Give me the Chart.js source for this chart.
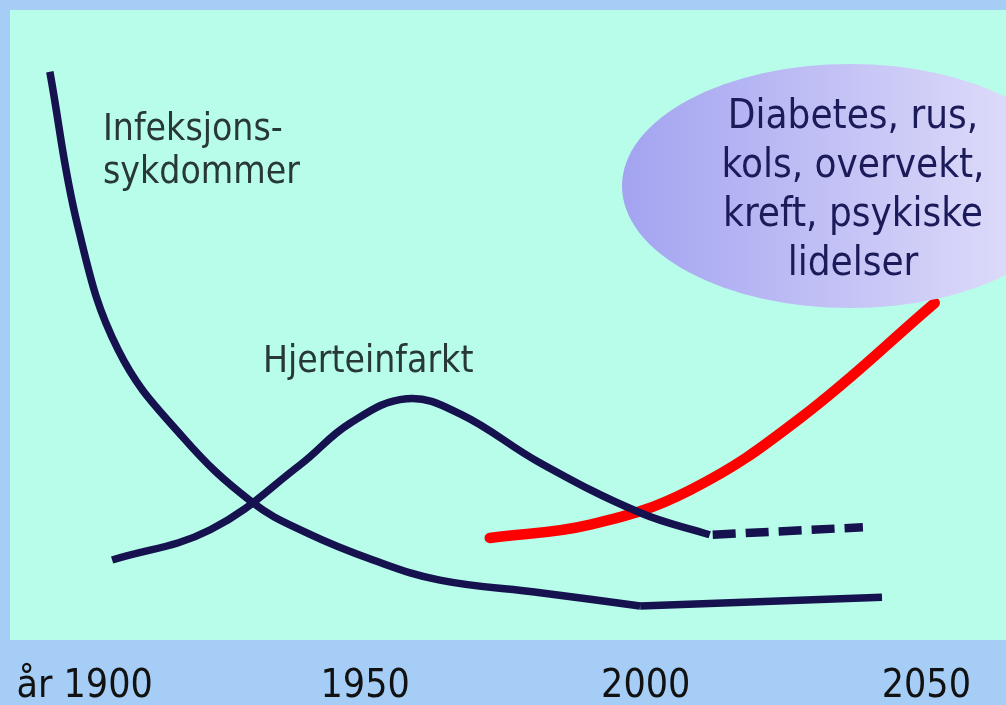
<!DOCTYPE html>
<html>
<head>
<meta charset="utf-8">
<script src="https://cdn.jsdelivr.net/npm/chart.js@4"></script>
<style>
  html, body { margin: 0; padding: 0; background: #a5cdf6; }
  canvas { display: block; }
</style>
</head>
<body>
<canvas id="c" width="1006" height="705"></canvas>
<script>
// ---- data (x = year, y = relative disease burden, arbitrary units) ----
const tickYears  = [1900, 1950, 2000, 2050];
const tickLabels = ['år 1900', '1950', '2000', '2050'];

const infectionYears = [1893.8, 1898.8, 1906.0, 1917.5, 1929.8, 1939.6, 1951.4, 1963.3, 1981.2, 1999.0];
const infectionVals  = [90.2, 65.6, 46.0, 32.2, 21.9, 17.0, 12.7, 9.5, 7.5, 5.4];
const infectionTailYears = [1999.0, 2042.1];
const infectionTailVals  = [5.4, 6.8];

const heartYears = [1904.9, 1922.4, 1938.4, 1947.3, 1957.4, 1966.9, 1981.2, 1999.0, 2011.4];
const heartVals  = [12.7, 17.5, 27.8, 34.4, 38.3, 35.9, 28.1, 20.2, 16.7];
const heartForecastYears = [2011.4, 2038.7];
const heartForecastVals  = [16.7, 17.9];

const lifestyleYears = [1972.2, 1990.1, 2007.9, 2027.5, 2051.5];
const lifestyleVals  = [16.2, 18.3, 23.8, 35.2, 53.5];

const labelInfection = ['Infeksjons-', 'sykdommer'];
const labelHeart = 'Hjerteinfarkt';
const labelLifestyle = ['Diabetes, rus,', 'kols, overvekt,', 'kreft, psykiske', 'lidelser'];

const pts = (xs, ys) => xs.map((x, i) => ({ x, y: ys[i] }));

const NAVY = '#15124f';
const FONT = "'DejaVu Sans Condensed', 'DejaVu Sans', sans-serif";

const decor = {
  id: 'decor',
  beforeDraw(chart) {
    const { ctx, chartArea: a } = chart;
    ctx.save();
    ctx.fillStyle = '#a5cdf6';
    ctx.fillRect(0, 0, chart.width, chart.height);
    ctx.fillStyle = '#b8fde9';
    ctx.fillRect(a.left, a.top, a.right - a.left, a.bottom - a.top);
    ctx.restore();
  },
  afterDatasetsDraw(chart) {
    const { ctx } = chart;
    ctx.save();
    // ellipse callout
    const cx = 850, cy = 186, rx = 228, ry = 122;
    const g = ctx.createLinearGradient(cx - rx, 0, 1006, 0);
    g.addColorStop(0, '#a3a3f1');
    g.addColorStop(1, '#dcdaf9');
    ctx.fillStyle = g;
    ctx.beginPath();
    ctx.ellipse(cx, cy, rx, ry, 0, 0, Math.PI * 2);
    ctx.fill();

    ctx.textBaseline = 'alphabetic';
    ctx.fillStyle = '#1c1b5a';
    ctx.font = '40px ' + FONT;
    ctx.textAlign = 'center';
    labelLifestyle.forEach((t, i) => ctx.fillText(t, 853, 128 + i * 49));

    ctx.fillStyle = '#283838';
    ctx.font = '37px ' + FONT;
    ctx.textAlign = 'left';
    ctx.fillText(labelInfection[0], 103, 140);
    ctx.fillText(labelInfection[1], 103, 183);
    ctx.fillText(labelHeart, 263, 372);
    ctx.restore();
  }
};

new Chart(document.getElementById('c'), {
  type: 'line',
  data: {
    datasets: [
      { data: pts(infectionYears, infectionVals), borderColor: NAVY, borderWidth: 7.5, tension: 0.4 },
      { data: pts(infectionTailYears, infectionTailVals), borderColor: NAVY, borderWidth: 7.5, tension: 0 },
      { data: pts(heartYears, heartVals), borderColor: NAVY, borderWidth: 7.5, tension: 0.4 },
      { data: pts(heartForecastYears, heartForecastVals), borderColor: NAVY, borderWidth: 8.5, tension: 0, borderDash: [23, 10], borderDashOffset: -3 },
      { data: pts(lifestyleYears, lifestyleVals), borderColor: '#ff0000', borderWidth: 10.5, tension: 0.4, borderCapStyle: 'round' }
    ]
  },
  options: {
    responsive: false,
    animation: false,
    devicePixelRatio: 1,
    layout: { padding: { left: 10, top: 10, right: 0, bottom: 0 } },
    elements: { point: { radius: 0 }, line: { borderJoinStyle: 'round', fill: false } },
    plugins: { legend: { display: false }, tooltip: { enabled: false } },
    scales: {
      x: {
        type: 'linear',
        min: 1886.7,
        max: 2064.2,
        grid: { display: false, drawTicks: false },
        border: { display: false },
        afterBuildTicks(scale) { scale.ticks = tickYears.map(v => ({ value: v })); },
        afterFit(scale) { scale.height = 65; scale.paddingLeft = 0; scale.paddingRight = 0; },
        ticks: {
          autoSkip: false,
          maxRotation: 0,
          padding: 23,
          color: '#111111',
          font: { family: FONT, size: 39 },
          callback(value) { const i = tickYears.indexOf(value); return i >= 0 ? tickLabels[i] : ''; }
        }
      },
      y: { display: false, min: 0, max: 100 }
    }
  },
  plugins: [decor]
});
</script>
</body>
</html>
